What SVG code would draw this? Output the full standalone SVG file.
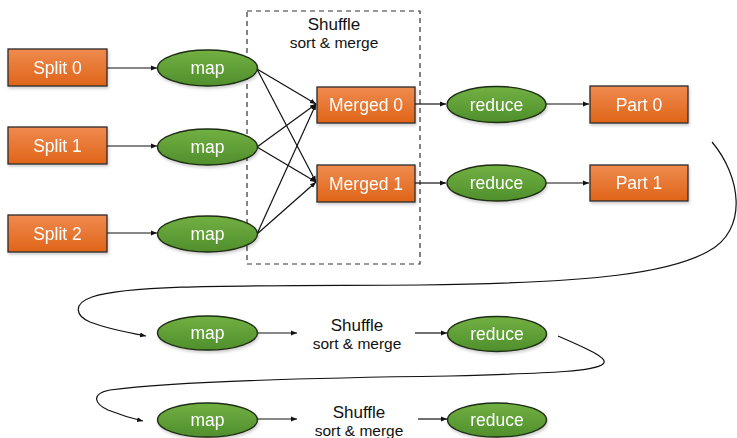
<svg xmlns="http://www.w3.org/2000/svg" width="737" height="438" viewBox="0 0 737 438">
  <style>
    .box { fill: url(#orange); stroke: #2b2b2b; stroke-width: 1.3; }
    .oval { fill: url(#green); stroke: #1f2d14; stroke-width: 1.3; }
    .lbl { font-family: "Liberation Sans", Arial, sans-serif; font-size: 17.5px; fill: #ffffff; text-anchor: middle; dominant-baseline: central; }
    .t1 { font-family: "Liberation Sans", Arial, sans-serif; font-size: 17px; fill: #111111; text-anchor: middle; }
    .t2 { font-family: "Liberation Sans", Arial, sans-serif; font-size: 15.5px; fill: #111111; text-anchor: middle; }
    .edge { fill: none; stroke: #111111; stroke-width: 1.2; }
    .arr { marker-end: url(#head); }
    .dash { fill: none; stroke: #333333; stroke-width: 1.2; stroke-dasharray: 5 4; }
  </style>
  <defs>
    <linearGradient id="orange" x1="0" y1="0" x2="0" y2="1">
      <stop offset="0" stop-color="#ef8b4f"/>
      <stop offset="1" stop-color="#df6418"/>
    </linearGradient>
    <linearGradient id="green" x1="0" y1="0" x2="0" y2="1">
      <stop offset="0" stop-color="#72b043"/>
      <stop offset="1" stop-color="#4f8f2b"/>
    </linearGradient>
    <filter id="shadow" x="-10%" y="-10%" width="130%" height="140%">
      <feDropShadow dx="1" dy="2" stdDeviation="1.5" flood-color="#000" flood-opacity="0.2"/>
    </filter>
    <marker id="head" viewBox="0 0 10 10" refX="10" refY="5" markerWidth="6" markerHeight="6" orient="auto" markerUnits="userSpaceOnUse">
      <path d="M0,1 L10,5 L0,9 Z" fill="#111111"/>
    </marker>
  </defs>

  <!-- shuffle stage frame -->
  <rect class="dash" x="247" y="11" width="173" height="253"/>
  <text class="t1" x="334" y="30">Shuffle</text>
  <text class="t2" x="334" y="48">sort &amp; merge</text>

  <g id="connectors">
    <line class="edge arr" x1="107" y1="68" x2="157" y2="68"/>
    <line class="edge arr" x1="107" y1="146" x2="157" y2="146"/>
    <line class="edge arr" x1="107" y1="233" x2="157" y2="233"/>
    <line class="edge arr" x1="257" y1="69" x2="316" y2="104"/>
    <line class="edge arr" x1="257" y1="69" x2="316" y2="182"/>
    <line class="edge arr" x1="257" y1="147" x2="316" y2="104"/>
    <line class="edge arr" x1="257" y1="147" x2="316" y2="182"/>
    <line class="edge arr" x1="257" y1="234" x2="316" y2="104"/>
    <line class="edge arr" x1="257" y1="234" x2="316" y2="182"/>
    <line class="edge arr" x1="415" y1="104" x2="446" y2="104"/>
    <line class="edge arr" x1="415" y1="183" x2="446" y2="183"/>
    <line class="edge arr" x1="546" y1="104" x2="589" y2="104"/>
    <line class="edge arr" x1="546" y1="183" x2="589" y2="183"/>
    <!-- wrap from the first job to the second -->
    <path class="edge arr" d="M712,142 C740,175 750,230 707,252 C670,272 600,283 420,285 C250,286 130,284 92,297 C72,304 76,316 90,322 C105,328 125,332 146,336"/>
    <line class="edge arr" x1="257" y1="333" x2="297" y2="333"/>
    <line class="edge arr" x1="415" y1="333" x2="447" y2="333"/>
    <!-- wrap from the second job to the third -->
    <path class="edge arr" d="M558,336 C585,348 610,358 603,364 C595,371 560,373 450,376 C300,378 170,382 110,390 C90,394 95,404 108,410 C118,414 130,418 143,421"/>
    <line class="edge arr" x1="257" y1="419" x2="297" y2="419"/>
    <line class="edge arr" x1="418" y1="419" x2="447" y2="419"/>
  </g>

  <g id="split0" filter="url(#shadow)"><rect class="box" x="8" y="49" width="99" height="37"/><text class="lbl" x="57.5" y="67.5">Split 0</text></g>
  <g id="split1" filter="url(#shadow)"><rect class="box" x="8" y="127" width="99" height="37"/><text class="lbl" x="57.5" y="145.5">Split 1</text></g>
  <g id="split2" filter="url(#shadow)"><rect class="box" x="8" y="215" width="99" height="37"/><text class="lbl" x="57.5" y="233.5">Split 2</text></g>

  <g id="map0" filter="url(#shadow)"><ellipse class="oval" cx="207.5" cy="68" rx="50" ry="18"/><text class="lbl" x="207.5" y="68">map</text></g>
  <g id="map1" filter="url(#shadow)"><ellipse class="oval" cx="207.5" cy="147" rx="50" ry="18"/><text class="lbl" x="207.5" y="147">map</text></g>
  <g id="map2" filter="url(#shadow)"><ellipse class="oval" cx="207.5" cy="234" rx="50" ry="18"/><text class="lbl" x="207.5" y="234">map</text></g>

  <g id="merged0" filter="url(#shadow)"><rect class="box" x="317" y="87" width="98" height="36"/><text class="lbl" x="366" y="105">Merged 0</text></g>
  <g id="merged1" filter="url(#shadow)"><rect class="box" x="317" y="165" width="98" height="37"/><text class="lbl" x="366" y="183.5">Merged 1</text></g>

  <g id="reduce0" filter="url(#shadow)"><ellipse class="oval" cx="496.5" cy="104.5" rx="49.5" ry="18"/><text class="lbl" x="496.5" y="104.5">reduce</text></g>
  <g id="reduce1" filter="url(#shadow)"><ellipse class="oval" cx="496.5" cy="183" rx="49.5" ry="18"/><text class="lbl" x="496.5" y="183">reduce</text></g>

  <g id="part0" filter="url(#shadow)"><rect class="box" x="590" y="86" width="98" height="37"/><text class="lbl" x="639" y="104.5">Part 0</text></g>
  <g id="part1" filter="url(#shadow)"><rect class="box" x="590" y="165" width="98" height="36"/><text class="lbl" x="639" y="183">Part 1</text></g>

  <!-- second job -->
  <g id="map_b" filter="url(#shadow)"><ellipse class="oval" cx="207.5" cy="333" rx="50" ry="17"/><text class="lbl" x="207.5" y="333">map</text></g>
  <g id="shuffle_b"><text class="t1" x="357" y="331">Shuffle</text><text class="t2" x="357" y="349">sort &amp; merge</text></g>
  <g id="reduce_b" filter="url(#shadow)"><ellipse class="oval" cx="497" cy="334" rx="49.5" ry="17.5"/><text class="lbl" x="497" y="334">reduce</text></g>

  <!-- third job -->
  <g id="map_c" filter="url(#shadow)"><ellipse class="oval" cx="207.5" cy="420" rx="50" ry="17"/><text class="lbl" x="207.5" y="420">map</text></g>
  <g id="shuffle_c"><text class="t1" x="359" y="418">Shuffle</text><text class="t2" x="359" y="436">sort &amp; merge</text></g>
  <g id="reduce_c" filter="url(#shadow)"><ellipse class="oval" cx="497" cy="420" rx="49.5" ry="17"/><text class="lbl" x="497" y="420">reduce</text></g>
</svg>
